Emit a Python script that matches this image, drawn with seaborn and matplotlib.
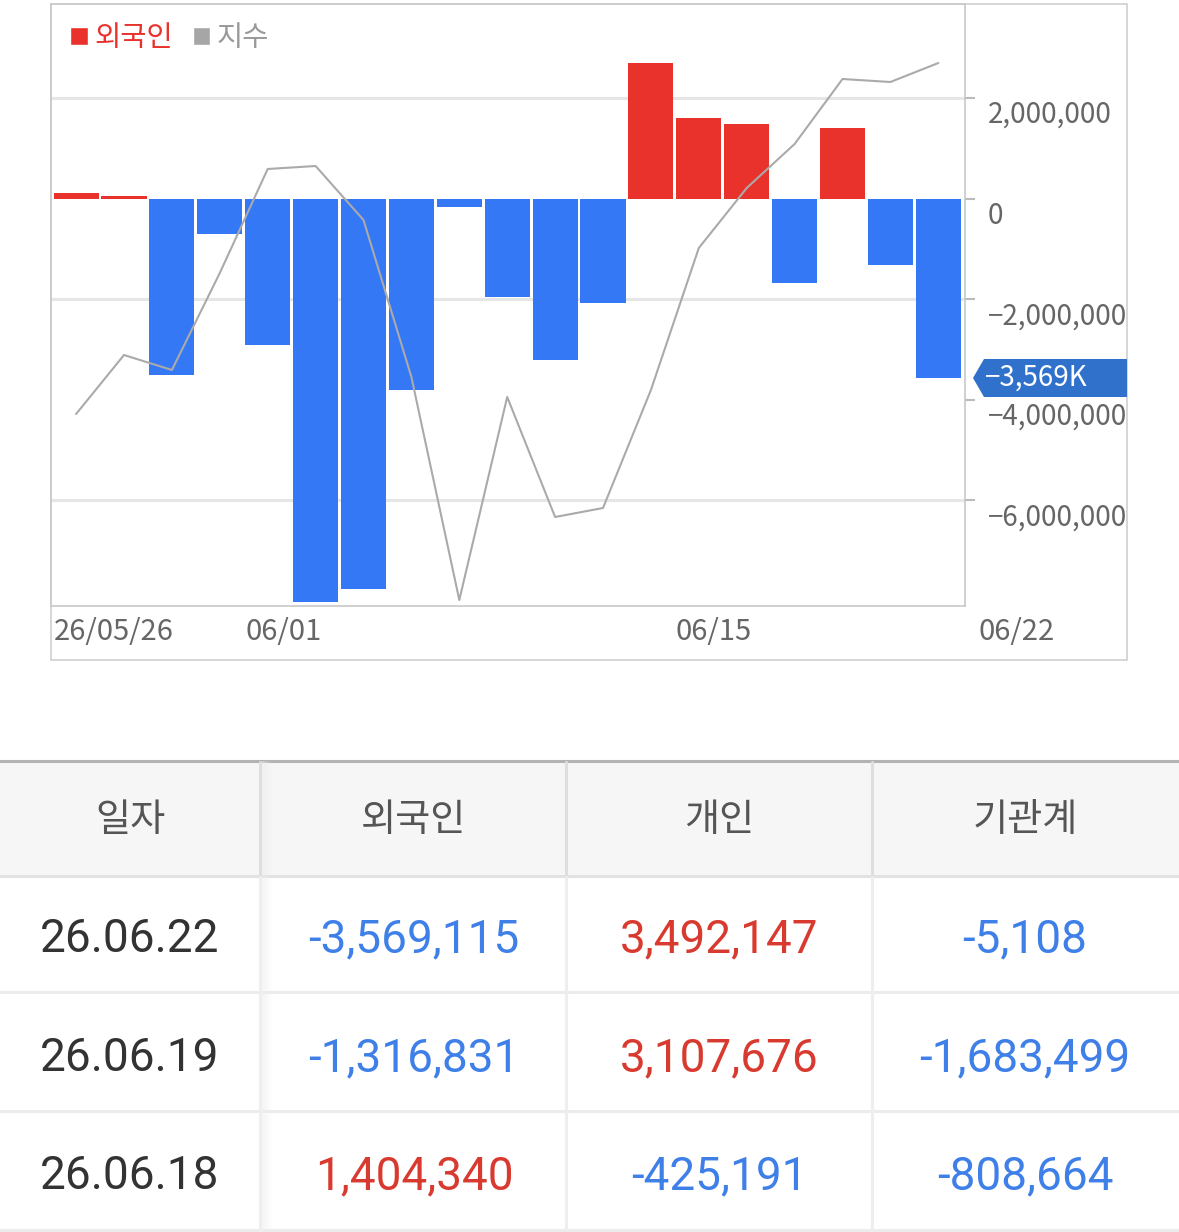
import numpy as np
import pandas as pd
import matplotlib.pyplot as plt
import seaborn as sns
from matplotlib.patches import Patch, Rectangle, Polygon
from matplotlib.ticker import FuncFormatter

W, H = 1179, 1232

# chart data: foreign net buying (shares) and index level, one point per trading day
dates = ['05/26', '05/27', '05/28', '05/29', '06/01', '06/02', '06/04', '06/05',
         '06/08', '06/09', '06/10', '06/11', '06/12', '06/15', '06/16', '06/17',
         '06/18', '06/19', '06/22']
foreign_net = [115000, 55000, -3516000, -710000, -2920000, -8030000, -7760000,
               -3810000, -170000, -1960000, -3220000, -2080000, 2690000, 1610000,
               1490000, -1670000, 1404340, -1316831, -3569115]
index_level = [2792, 2851, 2836, 2933, 3037, 3040, 2986, 2829, 2606, 2809, 2689,
               2698, 2816, 2958, 3018, 3062, 3127, 3124, 3143]

xtick_labels = ['26/05/26', '06/01', '06/15', '06/22']
xtick_pos = [-0.46, 3.53, 12.52, 18.83]
ytick_vals = [2000000, 0, -2000000, -4000000, -6000000]
grid_vals = [2000000, -2000000, -6000000]

# table data
table_cols = ['일자', '외국인', '개인', '기관계']
table_dates = ['26.06.22', '26.06.19', '26.06.18']
table_foreign = [-3569115, -1316831, 1404340]
table_individual = [3492147, 3107676, -425191]
table_institution = [-5108, -1683499, -808664]

RED = '#e8322b'
BLUE = '#3478f6'
GRAY = '#aaaaaa'
TXT = '#666666'

sns.set_style('white')
plt.rcParams['font.family'] = ['Noto Sans CJK KR', 'DejaVu Sans']


def fx(x):
    return x / W


def fy(y):
    return 1 - y / H


def minus(s):
    return s.replace('-', '\u2212')


fig = plt.figure(figsize=(W / 100, H / 100), dpi=100)
fig.patch.set_facecolor('white')

# ---- chart ----
ax = fig.add_axes([fx(51), fy(606), (965 - 51) / W, (606 - 4) / H])
df = pd.DataFrame({'date': dates, 'net': foreign_net})
df['side'] = np.where(df['net'] >= 0, 'buy', 'sell')
sns.barplot(data=df, x='date', y='net', hue='side',
            palette={'buy': RED, 'sell': BLUE}, dodge=False, width=0.94,
            saturation=1, errorbar=None, legend=False, linewidth=0, ax=ax)
ax.set_xlim(-0.524, 18.557)
ax.set_ylim(-8.105e6, 3.871e6)
for g in grid_vals:
    ax.axhline(g, color='#e6e6e6', lw=2.2, zorder=0)

# index line on a hidden twin scale
ax2 = ax.twinx()
sns.lineplot(x=np.arange(len(dates)), y=index_level, ax=ax2, color=GRAY, lw=1.5)
ax2.set_ylim(2600, 3202)
ax2.axis('off')

ax.set_xticks([])
ax.set_xlabel('')
ax.set_ylabel('')
ax.set_yticks(ytick_vals)
ax.tick_params(axis='y', which='both', left=False, right=True, length=7.2,
               width=1.5, color='#bbbbbb', labelright=False, labelleft=False)
for sp in ax.spines.values():
    sp.set_visible(True)
    sp.set_color('#c4c4c4')
    sp.set_linewidth(1.1)

fmt = FuncFormatter(lambda v, p: minus(f"{v:,.0f}"))
for v in ytick_vals:
    ax.annotate(fmt(v), xy=(1, v), xycoords=('axes fraction', 'data'),
                xytext=(23, -17), textcoords='offset pixels', ha='left',
                va='center', fontsize=20, color=TXT, annotation_clip=False)

for lab, pos in zip(xtick_labels, xtick_pos):
    ax.annotate(lab, xy=(pos, 0), xycoords=('data', 'axes fraction'),
                xytext=(0, -26), textcoords='offset pixels', ha='left',
                va='center', fontsize=21, color=TXT, annotation_clip=False)

ax2.legend(handles=[Patch(fc=RED), Patch(fc='#a6a6a6')], labels=['외국인', '지수'],
           loc='upper left', bbox_to_anchor=(fx(70), fy(23)),
           bbox_transform=fig.transFigure, frameon=False, fontsize=20.5,
           handlelength=0.62, handleheight=0.62, handletextpad=0.22,
           columnspacing=0.7, ncol=2, labelcolor=[RED, '#999999'],
           borderpad=0, borderaxespad=0)

# outer frame
fig.add_artist(Rectangle((fx(51), fy(660)), (1127 - 51) / W, (660 - 4) / H,
                         transform=fig.transFigure, fill=False,
                         ec='#cccccc', lw=1.1))

# last value tag
last_val = foreign_net[-1]
yc = H - ax.transData.transform((0, last_val))[1]
tag = [(973, yc), (984, yc - 19), (1127, yc - 19), (1127, yc + 19), (984, yc + 19)]
fig.add_artist(Polygon([(fx(x), fy(y)) for x, y in tag], closed=True,
                       transform=fig.transFigure, fc='#3071cc', ec='none'))
fig.text(fx(985), fy(yc), minus(f"{last_val / 1000:,.0f}K"), color='white',
         fontsize=20, ha='left', va='center')

# ---- table ----
tax = fig.add_axes([0, 0, 1, fy(757)])
tax.set_xlim(0, W)
tax.set_ylim(H, 757)
tax.axis('off')

tax.add_patch(Rectangle((0, 762), W, 113, fc='#f6f6f6', ec='none'))
tax.plot([0, W], [761, 761], color='#b3b3b3', lw=2.2)
tax.plot([0, W], [876, 876], color='#e2e2e2', lw=2.2)
for yl in [992, 1111, 1230]:
    tax.plot([0, W], [yl, yl], color='#ececec', lw=2.2)
for xl in [260, 566, 872]:
    tax.plot([xl, xl], [762, 875], color='#dedede', lw=2.2)
    tax.plot([xl, xl], [877, 1230], color='#eeeeee', lw=2.2)
for k, a in enumerate([0.5, 0.3, 0.15]):
    tax.plot([263 + 3 * k] * 2, [762, 1230], color='#eeeeee', lw=2.2, alpha=a)

col_centers = [130, 414, 719, 1025]
for c, name in zip(col_centers, table_cols):
    tax.text(c, 820, name, ha='center', va='center', fontsize=27.5, color='#555555')

row_y = [939, 1058, 1176]
num_font = ['Roboto', 'DejaVu Sans']
for i, y in enumerate(row_y):
    tax.text(col_centers[0], y, table_dates[i], ha='center', va='center',
             fontsize=33, color='#333333', family=num_font)
    for c, vals in zip(col_centers[1:], [table_foreign, table_individual, table_institution]):
        v = vals[i]
        tax.text(c, y, f"{v:,}", ha='center', va='center', fontsize=33,
                 color='#d93a2f' if v > 0 else '#3f7fe8', family=num_font)

fig.savefig('out.png', dpi=100)
